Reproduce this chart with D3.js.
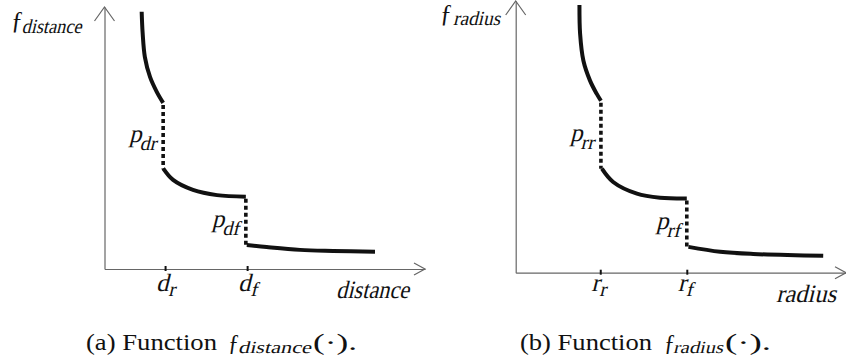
<!DOCTYPE html>
<html lang="en">
<head>
<meta charset="utf-8">
<title>Step functions</title>
<script src="https://d3js.org/d3.v7.min.js"></script>
<style>
  body { margin: 0; background: #fff; }
</style>
</head>
<body>
<div id="chart"></div>
<script>
// values, axis units 0..100 on both axes
var distanceSeg1 = [[11.6,98.2],[11.9,90.1],[12.6,80.9],[14.2,73.3],[16.3,67.6],[18.3,63.4]]
var distanceSeg2 = [[18.3,38.4],[21.4,34.0],[27.6,30.2],[35.1,28.2],[44.1,27.6]]
var distanceSeg3 = [[44.4,9.2],[50.6,8.4],[61.0,7.3],[71.3,6.9],[84.4,6.6]]
var distanceTicks = [18.9, 44.5]
var distanceTickLabels = [["d","r"],["d","f"]]
var distanceJumpLabels = [["p","dr"],["p","df"]]

var radiusSeg1 = [[19.3,98.5],[19.5,87.9],[20.5,78.0],[22.5,70.7],[24.5,65.9],[25.8,63.3]]
var radiusSeg2 = [[26.1,38.3],[29.5,33.4],[36.7,29.1],[43.7,27.6],[51.8,27.3]]
var radiusSeg3 = [[52.3,9.5],[61.9,7.7],[71.9,6.9],[93.1,6.2]]
var radiusTicks = [25.6, 51.8]
var radiusTickLabels = [["r","r"],["r","f"]]
var radiusJumpLabels = [["p","rr"],["p","rf"]]

var serif = "Liberation Serif"

var w = 846
var h = 363

var svg = d3.select("#chart").append("svg")
  .attr("width", w)
  .attr("height", h)

// no serif italic face here, so slant the upright one
function itext(parent, x, y, size) {
  return parent.append("text")
    .attr("transform", "translate(" + x + "," + y + ") skewX(-14)")
    .attr("font-family", serif)
    .attr("font-size", size)
    .attr("fill", "#111")
}
function rtext(parent, x, y, size) {
  return parent.append("text")
    .attr("x", x).attr("y", y)
    .attr("font-family", serif)
    .attr("font-size", size)
    .attr("fill", "#111")
}

function drawPanel(p) {
  var x = d3.scaleLinear().domain([0,100]).range(p.xr)
  var y = d3.scaleLinear().domain([0,100]).range(p.yr)
  var g = svg.append("g")

  // axes
  var xAxis = d3.axisBottom(x).tickValues(p.ticks).tickFormat("").tickSizeOuter(0)
  var yAxis = d3.axisLeft(y).tickValues([]).tickSizeOuter(0)
  var gx = g.append("g").attr("transform", "translate(0," + y(0) + ")").call(xAxis)
  var gy = g.append("g").attr("transform", "translate(" + x(0) + ",0)").call(yAxis)
  gx.select(".domain").attr("stroke", "#666").attr("stroke-width", 1.2)
  gy.select(".domain").attr("stroke", "#666").attr("stroke-width", 1.2)
  gx.selectAll(".tick line").attr("y1", -3).attr("y2", 2).attr("stroke", "#111").attr("stroke-width", 2)

  // open arrow heads
  var xe = x(100), ye = y(0)
  g.append("path")
    .attr("d", "M" + (xe-11) + "," + (ye-6) + "L" + xe + "," + ye + "L" + (xe-11) + "," + (ye+6))
    .attr("fill", "none").attr("stroke", "#666").attr("stroke-width", 1.2)
  var xa = x(0), ya = y(100)
  g.append("path")
    .attr("d", "M" + (xa-10) + "," + (ya+14) + "L" + xa + "," + ya + "L" + (xa+10) + "," + (ya+14))
    .attr("fill", "none").attr("stroke", "#666").attr("stroke-width", 1.2)

  // curve pieces
  var line = d3.line()
    .x(function(d){ return x(d[0]) })
    .y(function(d){ return y(d[1]) })
    .curve(d3.curveCatmullRom)
  p.segs.forEach(function(s){
    g.append("path").attr("d", line(s))
      .attr("fill", "none").attr("stroke", "#111").attr("stroke-width", 4)
  })

  // dotted jumps + p labels
  for (var i = 0; i < 2; i++) {
    var a = p.segs[i][p.segs[i].length-1]
    var b = p.segs[i+1][0]
    g.append("line")
      .attr("x1", x(a[0])).attr("x2", x(a[0]))
      .attr("y1", y(a[1]) + 2).attr("y2", y(b[1]))
      .attr("stroke", "#111").attr("stroke-width", 3.6)
      .attr("stroke-dasharray", "4,3")
    var jl = itext(g, x(a[0]) - 5, (y(a[1]) + y(b[1])) / 2 + 6.5, 25)
      .attr("text-anchor", "end")
    jl.append("tspan").text(p.jump[i][0])
    jl.append("tspan").attr("dy", 8).attr("font-size", 20).text(p.jump[i][1])
  }

  // tick labels
  p.ticks.forEach(function(t, i){
    var tl = itext(g, x(t) - 9, y(0) + p.tickDy, 25)
    tl.append("tspan").text(p.tickLabels[i][0])
    tl.append("tspan").attr("dx", 1).attr("dy", 5).attr("font-size", 20).text(p.tickLabels[i][1])
  })

  // axis names
  itext(g, p.xName[1], p.xName[2], 25)
    .attr("textLength", p.xName[3]).attr("lengthAdjust", "spacingAndGlyphs")
    .text(p.xName[0])
  rtext(g, p.yName[1], p.yName[2], 25).text("\u0192")
  itext(g, p.yName[3], p.yName[4], 20)
    .attr("textLength", p.yName[5]).attr("lengthAdjust", "spacingAndGlyphs")
    .text(p.yName[0])

  // caption: upright part, slanted f and subscript, upright tail
  var c = p.cap
  rtext(svg, c[1], 350, 23).attr("textLength", c[2]).attr("lengthAdjust", "spacingAndGlyphs").text(c[0])
  rtext(svg, c[3], 350, 23).text("\u0192")
  itext(svg, c[4], 352.5, 17).attr("textLength", c[5]).attr("lengthAdjust", "spacingAndGlyphs").text(p.yName[0])
  rtext(svg, c[6], 350, 23).attr("textLength", c[7]).attr("lengthAdjust", "spacingAndGlyphs").text("(\u00b7).")
}

drawPanel({
  xr: [104.5, 425], yr: [269, 7],
  segs: [distanceSeg1, distanceSeg2, distanceSeg3],
  ticks: distanceTicks, tickLabels: distanceTickLabels, tickDy: 22,
  jump: distanceJumpLabels,
  xName: ["distance", 336, 298, 73],
  yName: ["distance", 11, 29, 21.5, 33, 60],
  cap: ["(a) Function", 86, 131, 228, 238, 73, 313, 44]
})

drawPanel({
  xr: [515.7, 846], yr: [272.7, 1],
  segs: [radiusSeg1, radiusSeg2, radiusSeg3],
  ticks: radiusTicks, tickLabels: radiusTickLabels, tickDy: 18,
  jump: radiusJumpLabels,
  xName: ["radius", 776, 302, 60],
  yName: ["radius", 440, 22, 453, 25, 47],
  cap: ["(b) Function", 520, 132, 664, 673, 50, 725, 46]
})
</script>
</body>
</html>
